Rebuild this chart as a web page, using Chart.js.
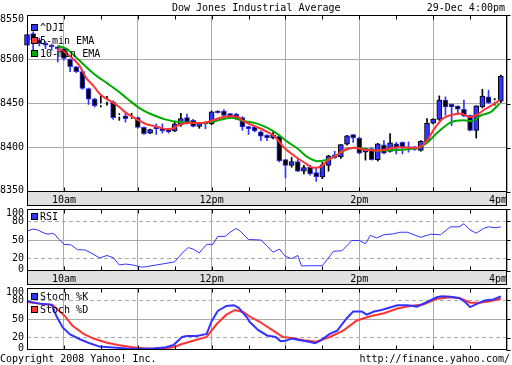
<!DOCTYPE html>
<html>
<head>
<meta charset="utf-8">
<script src="https://cdn.jsdelivr.net/npm/chart.js@4.4.1/dist/chart.umd.min.js"></script>
<style>
  body { margin: 0; background: #fff; }
  #page { position: relative; width: 512px; height: 365px; overflow: hidden;
          font: 10px "DejaVu Sans Mono", monospace; color: #000; }
  #page canvas { position: absolute; left: 0; }
  .txt { position: absolute; white-space: pre; line-height: 10px; }
  .key { position: absolute; left: 31px; width: 5px; height: 5px; border: 1px solid #000; }
</style>
</head>
<body>
<div id="page">
  <canvas id="priceChart" width="512" height="206" style="top:0"></canvas>
  <canvas id="rsiChart" width="512" height="85" style="top:200px"></canvas>
  <canvas id="stochChart" width="512" height="86" style="top:279px"></canvas>

  <div class="txt" style="left:172px;top:3px">Dow Jones Industrial Average</div>
  <div class="txt" style="right:7px;top:3px">29-Dec 4:00pm</div>

  <div class="key" style="top:24px;background:#3333ff"></div>
  <div class="txt" style="left:40px;top:23px">^DJI</div>
  <div class="key" style="top:37px;background:#ff3333"></div>
  <div class="txt" style="left:40px;top:36px">5-min EMA</div>
  <div class="key" style="top:50px;background:#00aa00"></div>
  <div class="txt" style="left:40px;top:49px">10-min EMA</div>

  <div class="key" style="top:213px;background:#3333ff"></div>
  <div class="txt" style="left:40px;top:212px">RSI</div>

  <div class="key" style="top:293px;background:#3333ff"></div>
  <div class="txt" style="left:40px;top:292px">Stoch %K</div>
  <div class="key" style="top:306px;background:#ff3333"></div>
  <div class="txt" style="left:40px;top:305px">Stoch %D</div>

  <div class="txt" style="left:0;top:354px">Copyright 2008 Yahoo! Inc.</div>
  <div class="txt" style="right:2px;top:354px">http://finance.yahoo.com/</div>
</div>

<script>
// minutes after the 9:30 open, one per 5-minute candle
const candleMinutes = [0,5,10,15,20,25,30,35,40,45,50,55,60,65,70,75,80,85,90,95,
    100,105,110,115,120,125,130,135,140,145,150,155,160,165,170,175,180,185,190,195,
    200,205,210,215,220,225,230,235,240,245,250,255,260,265,270,275,280,285,290,295,
    300,305,310,315,320,325,330,335,340,345,350,355,360,365,370,375,380,385];

const opens = [8516,8529,8522,8518,8516,8514,8512,8500,8491.5,8486,
    8467,8455,8449,8453,8452,8436,8436,8435,8434,8423,
    8416.6,8423,8422,8421.5,8419,8426,8434,8431,8424,8428,
    8427,8441.5,8441.5,8438.6,8438,8434,8424,8423.5,8418,8414,
    8411,8413,8386.5,8380,8384.5,8373.5,8378,8372,8367,8380,
    8392,8389.5,8404,8414.8,8411,8395,8399,8386.6,8403.4,8395.8,
    8404.5,8406,8401,8401,8397,8406.6,8427.7,8432,8453.8,8449,
    8447,8443.5,8436.7,8419.7,8446,8457.5,8452.6,8452.6];

const highs = [8531,8531,8524,8520,8517,8515,8513,8500.5,8492,8487,
    8467.5,8456,8459,8458,8453,8438.5,8439,8439,8435,8423.5,
    8421,8427,8427,8422,8429,8439,8438,8432,8428.5,8428.5,
    8441.5,8442,8443,8439,8439,8435,8424.5,8425,8419,8415,
    8419,8414,8387,8389,8388,8380,8380,8377.5,8383.5,8391.5,
    8396,8404,8414,8415,8412,8399.5,8400,8405,8408,8416,
    8406,8406.6,8406.6,8401.5,8408,8433,8433,8458.6,8457.5,8449.5,
    8447.5,8453.8,8437,8447.5,8466,8465,8455.7,8482];

const lows = [8508,8509,8515,8512,8510,8497,8499,8486,8485,8466,
    8449,8446,8446,8448,8432,8431,8429,8433,8422,8415,
    8416,8415,8416.6,8416.5,8418,8424,8427,8423.5,8422,8421.5,
    8426,8439,8433,8433,8432,8419.7,8415,8418,8408,8408,
    8410,8384,8366,8378,8373,8370.5,8369,8362,8365,8373.5,
    8388,8388,8403,8406,8393,8386,8386,8385,8393,8395,
    8393,8393,8395,8397,8396,8406,8427,8431,8436.7,8425,
    8437.5,8435,8419,8411,8445,8450,8448,8451];

const closes = [8528,8522,8518,8516,8514,8512,8501,8491.5,8486,8467,
    8455,8447.5,8449,8453,8434,8436,8433,8435,8423,8416,
    8420.5,8421.5,8419,8418,8427,8433,8428.5,8424,8428,8427,
    8440.5,8439.5,8436.5,8435.5,8433,8423.5,8421.5,8419,8413,8411.5,
    8414,8385,8380,8384.5,8373.5,8377.5,8370.5,8367,8380.6,8391,
    8388.6,8403.7,8413.6,8411,8394,8399,8386.6,8404.5,8394,8405.7,
    8399.5,8400.7,8400,8398,8407.2,8427.7,8432,8453.8,8446,8446,
    8443.5,8436,8419.7,8447.3,8458.3,8451,8452.6,8481];

const ema5Minutes = [25,32,37,43,48,54,59,65,70,75,80,92,97,105,114,119,122,130,141,149,
    157,166,171,176,184,193,201,209,217,225,233,239,244,251,258,266,274,285,293,301,
    317,324,331,338,344,353,359,365,372,380,384];
const ema5 = [8512,8507,8501,8492,8479,8470,8461,8455,8451,8446,8440,8430,8426.5,8424,8421,8422,8425,8428,8428,8430,
    8434,8435.6,8435,8430,8425,8419.5,8413,8400,8391,8383.6,8377.3,8378.7,8385.6,8391,8397.7,8400,8397.7,8397,8398.5,8400.7,
    8400,8406.4,8421.6,8433,8436.7,8438.6,8434.8,8436.7,8443.5,8450,8453.8];

const ema10Minutes = [25,32,40,54,65,73,81,92,103,113,124,141,151,166,176,187,195,203,212,220,
    228,236,244,251,259,266,277,288,317,324,334,344,355,361,369,377,384];
const ema10 = [8515,8512,8502,8484,8473,8465,8456,8444.3,8436.7,8431.8,8429,8428,8429.5,8434,8430.2,8427.3,8422.7,8416,8406.4,8398.9,
    8389.3,8384.8,8386.4,8391.2,8397.7,8400,8397.7,8397,8399.6,8404.5,8417.7,8428.4,8431,8430,8436.7,8440.5,8450];

const rsiMinutes = [0,5,9,14,17,21,23,26,30,36,41,47,52,59,65,70,75,80,86,93,
    97,105,113,120,126,131,135,140,146,151,155,161,165,170,173,180,190,195,200,205,
    210,215,220,223,231,240,249,256,264,270,275,279,284,290,298,303,309,320,328,336,
    344,351,355,360,365,371,375,381,385];
const rsi = [64.6,67.7,66,61,59.4,61,58,50.8,43,42,34.3,34,29.2,21,25,21.5,9.7,11.2,9.7,6.2,
    7,9.7,12.3,14.8,28.7,37.8,35.3,29.2,43,43,55.8,55.8,62.5,68.6,64.6,50.8,50,40.5,30.2,35.4,
    23.5,20,25,8.2,8.5,8.5,31.7,32.8,49.2,49.2,44,57.4,53.2,58.5,60,62.5,62.5,54.3,59.4,58.5,
    71.2,71.2,76.3,66.2,61,68.6,71.2,69.7,71.2];

const stochKMinutes = [0,10,20,24,29,35,43,51,59,70,81,92,103,113,119,126,130,138,146,150,
    155,162,168,172,179,181,188,195,202,206,210,215,222,229,234,238,246,252,260,265,
    272,276,282,288,301,309,317,325,333,337,344,351,356,360,366,372,379,385];
const stochK = [78.5,74.8,73.2,54.3,36.3,25,17.4,10.8,5.5,4,2.5,2,2.5,4.6,8,21,22.5,22.5,26,46.6,
    63,71,72.3,68,51.7,45,32,23.5,21,14.3,14.8,18.5,15.8,13.2,10.8,14.8,26,31.2,51.7,62,
    62,57,62,64.6,72.3,72.3,70,77.4,85,86.6,86,84,77.4,69.2,74.8,80,81.5,86.6];

const stochDMinutes = [0,21,31,37,46,54,65,75,86,97,108,119,126,135,146,154,162,169,176,181,
    189,192,200,208,215,225,235,246,257,268,279,290,301,311,322,333,344,352,360,368,376,385];
const stochD = [77.4,72.3,54.3,39,26,18.5,11.7,7.7,4.6,2.5,2.5,4.6,9.7,14.8,21,41.5,57,64.6,61,54,
    45.5,41.5,31.2,21,19.4,15.8,13.2,21,31.2,47.7,54.3,59.4,67,70.8,73.2,82.5,85,83.5,76.3,76.3,78.5,82.5];

const timeTicks = [0,30,60,90,120,150,180,210,240,270,300,330,360,390];
const timeLabelMinutes = [30,150,270,390];
const timeLabels = ["10am","12pm","2pm","4pm"];
const priceTicks = [8350,8400,8450,8500,8550];
const oscTicks = [0,20,50,80,100];

const BLUE = "#3333ff", RED = "#ff3333", GREEN = "#00aa00", INK = "#000000";
const GRID = "#aaaaaa", NONE = "rgba(0,0,0,0)";
const FONT = "10px 'DejaVu Sans Mono', monospace";

Chart.defaults.font.family = "'DejaVu Sans Mono', monospace";
Chart.defaults.font.size = 10;
Chart.defaults.color = INK;
Chart.defaults.animation = false;
Chart.defaults.plugins.legend.display = false;
Chart.defaults.plugins.tooltip.enabled = false;

const pairs = (xs, ys) => xs.map((x, i) => ({ x: x, y: ys[i] }));
const trend = i => closes[i] > opens[i] ? 1 : (closes[i] < opens[i] ? -1 : 0);

// frame, grey time band, small tick marks and the two end labels of the value axis
const panelFrame = {
    id: "panelFrame",
    beforeDraw(chart, args, opts) {
        if (!opts.band) return;
        const { ctx, chartArea: a } = chart;
        ctx.save();
        ctx.fillStyle = "#e0e0e0";
        ctx.fillRect(a.left, a.bottom, a.right - a.left, opts.band);
        ctx.restore();
    },
    afterDraw(chart, args, opts) {
        const { ctx, chartArea: a, scales } = chart;
        const y = scales.y;
        const l = Math.round(a.left) + 0.5, r = Math.round(a.right) - 0.5;
        const t = Math.round(a.top) + 0.5, b = Math.round(a.bottom) - 0.5;
        ctx.save();
        ctx.strokeStyle = INK;
        ctx.lineWidth = 1;
        ctx.beginPath();
        timeTicks.slice(1, -1).forEach(v => {
            const px = Math.round(scales.x.getPixelForValue(v)) + 0.5;
            ctx.moveTo(px, t); ctx.lineTo(px, t + 4);
            ctx.moveTo(px, b); ctx.lineTo(px, b - 4);
        });
        y.ticks.forEach(tk => {
            const py = Math.round(y.getPixelForValue(tk.value)) + 0.5;
            ctx.moveTo(r, py); ctx.lineTo(r + 4, py);
        });
        ctx.stroke();
        ctx.strokeRect(l, t, r - l, b - t);
        if (opts.band) ctx.strokeRect(l, b, r - l, opts.band);

        // end labels kept inside the panel, as on the original
        ctx.font = FONT;
        ctx.fillStyle = INK;
        ctx.textAlign = "right";
        ctx.textBaseline = "top";
        ctx.fillText(String(y.max), a.left - 3, y.getPixelForValue(y.max) - 1);
        ctx.textBaseline = "alphabetic";
        ctx.fillText(String(y.min), a.left - 3, y.getPixelForValue(y.min) + 1);
        ctx.restore();
    }
};

function timeAxis(showLabels, height) {
    return {
        type: "linear", min: 0, max: 390, offset: false,
        afterBuildTicks: s => { s.ticks = timeTicks.map(v => ({ value: v })); },
        afterFit: s => { s.height = height; },
        grid: {
            offset: false, drawTicks: false,
            color: c => c.tick && c.tick.value % 60 === 30 ? GRID : NONE
        },
        border: { display: false },
        ticks: {
            display: showLabels, autoSkip: false, maxRotation: 0, align: "inner", padding: 2,
            callback: v => {
                const k = timeLabelMinutes.indexOf(v);
                return k < 0 ? "" : timeLabels[k];
            }
        }
    };
}

function valueAxis(min, max, ticks, dashed) {
    return {
        type: "linear", position: "left", min: min, max: max,
        afterBuildTicks: s => { s.ticks = ticks.map(v => ({ value: v })); },
        afterFit: s => { s.width = 27; },
        grid: {
            drawTicks: false,
            color: c => c.tick && c.tick.value > min && c.tick.value < max ? GRID : NONE
        },
        border: {
            display: false,
            dash: c => c.tick && dashed.includes(c.tick.value) ? [4, 3] : []
        },
        ticks: {
            padding: 3, autoSkip: false,
            callback: v => (v === min || v === max) ? "" : String(v)
        }
    };
}

const bodies = candleMinutes.map((m, i) => ({
    x: m,
    y: trend(i) === 0 ? [opens[i] - 0.6, opens[i] + 0.6] : [opens[i], closes[i]]
}));
const wicks = candleMinutes.map((m, i) => ({ x: m, y: [lows[i], highs[i]] }));

new Chart(document.getElementById("priceChart"), {
    type: "bar",
    data: {
        datasets: [
            {
                type: "line", label: "5-min EMA", data: pairs(ema5Minutes, ema5),
                borderColor: RED, borderWidth: 2, pointRadius: 0,
                cubicInterpolationMode: "monotone", order: 0
            },
            {
                type: "line", label: "10-min EMA", data: pairs(ema10Minutes, ema10),
                borderColor: GREEN, borderWidth: 2, pointRadius: 0,
                cubicInterpolationMode: "monotone", order: 1
            },
            {
                label: "^DJI", data: bodies, grouped: false, barThickness: 5,
                borderSkipped: false, clip: false, order: 2,
                backgroundColor: c => [INK, "#ffffff", BLUE][trend(c.dataIndex) + 1],
                borderColor: c => trend(c.dataIndex) < 0 ? BLUE : INK,
                borderWidth: c => trend(c.dataIndex) === 0 ? 0 : 1
            },
            {
                label: "^DJI range", data: wicks, grouped: false, barThickness: 1,
                borderWidth: 0, order: 3,
                backgroundColor: c => trend(c.dataIndex) < 0 ? BLUE : INK
            }
        ]
    },
    options: {
        responsive: false,
        events: [],
        layout: { padding: { top: 15, right: 5, left: 0, bottom: 0 } },
        scales: {
            x: timeAxis(true, 14),
            y: valueAxis(8350, 8550, priceTicks, [])
        },
        plugins: { panelFrame: { band: 14 } }
    },
    plugins: [panelFrame]
});

new Chart(document.getElementById("rsiChart"), {
    type: "line",
    data: {
        datasets: [{
            label: "RSI", data: pairs(rsiMinutes, rsi),
            borderColor: BLUE, borderWidth: 1, pointRadius: 0
        }]
    },
    options: {
        responsive: false,
        events: [],
        layout: { padding: { top: 6, right: 5, left: 0, bottom: 0 } },
        scales: {
            x: timeAxis(true, 14),
            y: valueAxis(0, 100, oscTicks, [20, 80])
        },
        plugins: { panelFrame: { band: 14 } }
    },
    plugins: [panelFrame]
});

new Chart(document.getElementById("stochChart"), {
    type: "line",
    data: {
        datasets: [
            {
                label: "Stoch %K", data: pairs(stochKMinutes, stochK),
                borderColor: BLUE, borderWidth: 2, pointRadius: 0, order: 0
            },
            {
                label: "Stoch %D", data: pairs(stochDMinutes, stochD),
                borderColor: RED, borderWidth: 2, pointRadius: 0, order: 1
            }
        ]
    },
    options: {
        responsive: false,
        events: [],
        layout: { padding: { top: 6, right: 5, left: 0, bottom: 15 } },
        scales: {
            x: timeAxis(false, 0),
            y: valueAxis(0, 100, oscTicks, [20, 80])
        },
        plugins: { panelFrame: { band: 0 } }
    },
    plugins: [panelFrame]
});
</script>
</body>
</html>
